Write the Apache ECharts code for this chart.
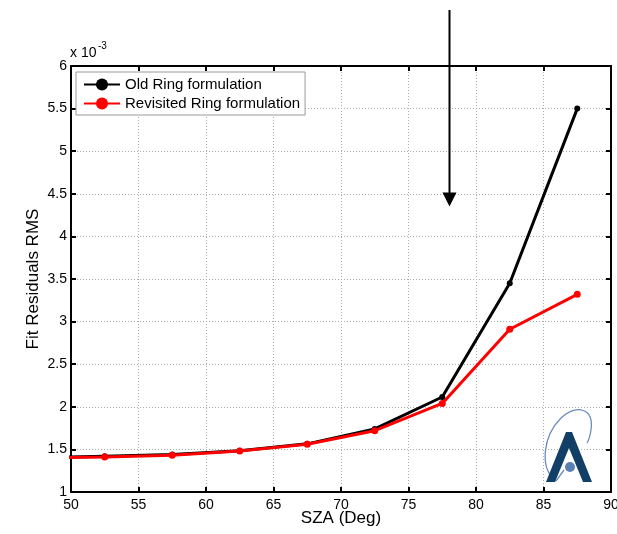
<!DOCTYPE html>
<html>
<head>
<meta charset="utf-8">
<script src="https://cdn.jsdelivr.net/npm/echarts@6/dist/echarts.min.js"></script>
<style>
  html, body { margin: 0; padding: 0; background: #fff; }
  #chart { width: 617px; height: 534px; }
</style>
</head>
<body>
<div id="chart"></div>
<script>
// Solar zenith angle bins (deg) and fit residual RMS (x 10^-3)
const sza = [47.5, 52.5, 57.5, 62.5, 67.5, 72.5, 77.5, 82.5, 87.5];
const oldRing = [1.40, 1.42, 1.44, 1.485, 1.565, 1.74, 2.115, 3.45, 5.50];
const revisitedRing = [1.40, 1.41, 1.43, 1.48, 1.56, 1.72, 2.04, 2.91, 3.32];
const seriesNames = ['Old Ring formulation', 'Revisited Ring formulation'];
const arrowAt = [78, 4.35];

const FONT = 'Liberation Sans, Arial, sans-serif';
const chart = echarts.init(document.getElementById('chart'), null, { renderer: 'canvas' });

const gridLine = { show: true, lineStyle: { color: '#aaa', type: [1, 2], width: 1 } };
const boxLine = { show: true, lineStyle: { color: '#000', width: 2 } };
const tick = { show: true, inside: true, length: 5, lineStyle: { color: '#000', width: 2 } };

function pairs(ys) { return sza.map((x, i) => [x, ys[i]]); }

const option = {
  backgroundColor: '#fff',
  animation: false,
  grid: { left: 71, right: 6, top: 66, bottom: 42, containLabel: false, outerBoundsMode: 'none' },
  legend: {
    orient: 'vertical',
    left: 76, top: 72,
    backgroundColor: '#fff',
    borderColor: '#999', borderWidth: 1,
    padding: [5, 5, 4, 7],
    itemGap: 4,
    itemWidth: 36, itemHeight: 15,
    textStyle: { fontFamily: FONT, fontSize: 15, color: '#000' },
    data: seriesNames
  },
  xAxis: [
    {
      type: 'value', min: 50, max: 90, interval: 5,
      name: 'SZA (Deg)', nameLocation: 'middle', nameGap: 18, nameMoveOverlap: false,
      nameTextStyle: { fontFamily: FONT, fontSize: 17, color: '#000', verticalAlign: 'top' },
      axisLine: boxLine, axisTick: tick, splitLine: gridLine,
      axisLabel: { fontFamily: FONT, fontSize: 14, color: '#000', margin: 6 }
    },
    {
      type: 'value', min: 50, max: 90, interval: 5, position: 'top',
      axisLine: boxLine, axisTick: tick, splitLine: { show: false },
      axisLabel: { show: false }
    }
  ],
  yAxis: [
    {
      type: 'value', min: 1, max: 6, interval: 0.5,
      name: 'Fit Residuals RMS', nameLocation: 'middle', nameGap: 29, nameMoveOverlap: false,
      nameTextStyle: { fontFamily: FONT, fontSize: 17, color: '#000' },
      axisLine: boxLine, axisTick: tick, splitLine: gridLine,
      axisLabel: { fontFamily: FONT, fontSize: 14, color: '#000', margin: 4 }
    },
    {
      type: 'value', min: 1, max: 6, interval: 0.5, position: 'right',
      axisLine: boxLine, axisTick: tick, splitLine: { show: false },
      axisLabel: { show: false }
    }
  ],
  series: [
    {
      name: seriesNames[0], type: 'line', data: pairs(oldRing),
      xAxisIndex: 0, yAxisIndex: 0, clip: true,
      symbol: 'circle', symbolSize: 6, showAllSymbol: true,
      itemStyle: { color: '#000' },
      lineStyle: { color: '#000', width: 3 }
    },
    {
      name: seriesNames[1], type: 'line', data: pairs(revisitedRing),
      xAxisIndex: 0, yAxisIndex: 0, clip: true,
      symbol: 'circle', symbolSize: 7, showAllSymbol: true,
      itemStyle: { color: '#ff0000' },
      lineStyle: { color: '#ff0000', width: 3 }
    }
  ]
};
chart.setOption(option);

// Annotations: exponent label, arrow and logo
const tip = chart.convertToPixel({ gridIndex: 0 }, arrowAt);
const ax = Math.round(tip[0]) + 0.5;
const ay = tip[1];

const orbitStroke = { stroke: '#6a8cbf', lineWidth: 1.3, fill: null };

chart.setOption({
  graphic: [
    {
      type: 'text', x: 70, y: 46, silent: true,
      style: { text: 'x 10', fontFamily: FONT, fontSize: 14, fill: '#000' }
    },
    {
      type: 'text', x: 98, y: 41, silent: true,
      style: { text: '-3', fontFamily: FONT, fontSize: 10, fill: '#000' }
    },
    {
      type: 'line', silent: true, z: 100,
      shape: { x1: ax, y1: 10, x2: ax, y2: ay - 12 },
      style: { stroke: '#000', lineWidth: 2 }
    },
    {
      type: 'polygon', silent: true, z: 100,
      shape: { points: [[ax - 7, ay - 14], [ax + 7, ay - 14], [ax, ay]] },
      style: { fill: '#000' }
    },
    {
      type: 'group', silent: true, z: 90, x: 569, y: 458,
      children: [
        {
          type: 'bezierCurve',
          shape: { x1: -13, y1: 23, cpx1: -30, cpy1: 10, cpx2: -26, cpy2: -22, x2: -8, y2: -40 },
          style: orbitStroke
        },
        {
          type: 'bezierCurve',
          shape: { x1: -8, y1: -40, cpx1: 8, cpy1: -54, cpx2: 25, cpy2: -50, x2: 22, y2: -28 },
          style: orbitStroke
        },
        {
          type: 'bezierCurve',
          shape: { x1: 22, y1: -28, cpx1: 21, cpy1: -22, cpx2: 20, cpy2: -18, x2: 18, y2: -15 },
          style: orbitStroke
        },
        {
          type: 'polygon',
          shape: { points: [[-3, -26], [3, -26], [23, 24], [14, 24], [0, -10], [-14, 24], [-23, 24]] },
          style: { fill: '#123f68' }
        },
        {
          type: 'line',
          shape: { x1: -13, y1: 23, x2: -5, y2: 12 },
          style: { stroke: '#6a8cbf', lineWidth: 1.3 }
        },
        {
          type: 'circle',
          shape: { cx: 1, cy: 9, r: 5 },
          style: { fill: '#5a7fb3' }
        }
      ]
    }
  ]
});
</script>
</body>
</html>
